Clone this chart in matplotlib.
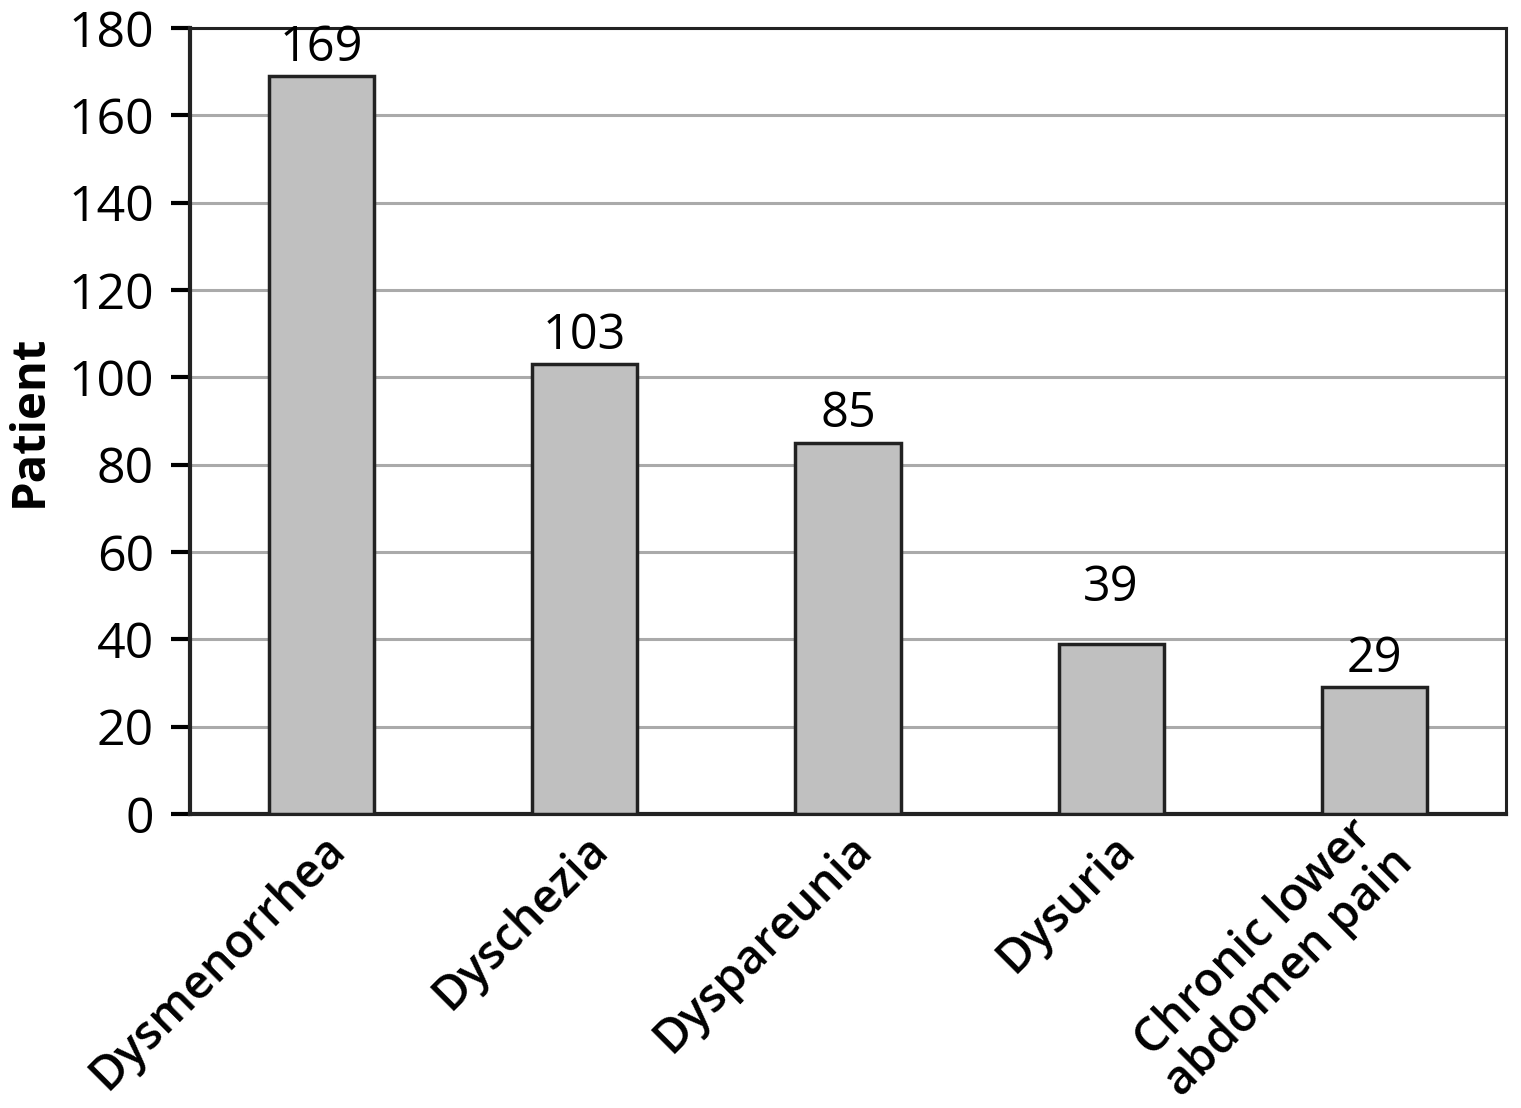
import numpy as np
import matplotlib
matplotlib.use("Agg")
import matplotlib.pyplot as plt
from matplotlib.transforms import ScaledTranslation

plt.rcParams['font.family'] = ['Open Sans', 'DejaVu Sans']

categories = ["Dysmenorrhea", "Dyschezia", "Dyspareunia", "Dysuria",
              "Chronic lower\nabdomen pain"]
patients = [169, 103, 85, 39, 29]
yticks = [0, 20, 40, 60, 80, 100, 120, 140, 160, 180]

fig = plt.figure(figsize=(15.21, 11.08), dpi=100)
ax = fig.add_axes([0.1249, 0.2653, 0.8652, 0.7094])

x = np.arange(len(categories))
ax.bar(x, patients, width=0.4, color="#c0c0c0", edgecolor="#222222",
       linewidth=2.5, zorder=3)

# value labels; the Dysuria one sits a bit higher in the original
offsets = [0.8, 0.8, 0.8, 7.0, 0.8]
for xi, v, off in zip(x, patients, offsets):
    ax.text(xi, v + off, str(v), ha="center", va="bottom", fontsize=35)

ax.set_xlim(-0.5, len(categories) - 0.5)
ax.set_ylim(0, 180)
ax.set_yticks(yticks)
ax.yaxis.grid(True, color="#aaaaaa", linewidth=2.2, zorder=0)
ax.set_axisbelow(True)
ax.tick_params(axis="y", labelsize=36, length=14, width=3, direction="out",
               pad=12)
ax.tick_params(axis="x", length=0, pad=8)
ax.set_xticks(x)
ax.set_xticklabels(categories, rotation=45, ha="right",
                   rotation_mode="anchor", fontsize=34,
                   fontweight="semibold", ma="center", linespacing=1.05)
# nudge the two-line label up and left like in the original
last = ax.get_xticklabels()[-1]
last.set_transform(last.get_transform() +
                   ScaledTranslation(-0.2, 0.2, fig.dpi_scale_trans))

ax.set_ylabel("Patient", fontsize=34, fontweight="bold")
ax.yaxis.set_label_coords(-0.104, 0.5)
for side in ["left", "bottom"]:
    ax.spines[side].set_linewidth(3)
for side in ["top", "right"]:
    ax.spines[side].set_linewidth(2.2)
for sp in ax.spines.values():
    sp.set_color("#222222")

fig.savefig("out.png", dpi=100)
